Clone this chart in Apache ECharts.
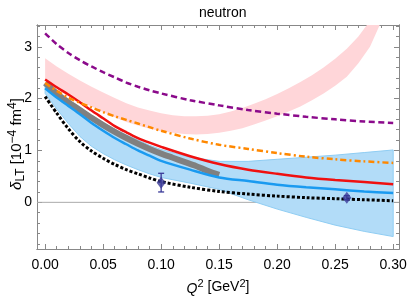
<!DOCTYPE html>
<html><head><meta charset="utf-8">
<script src="https://cdn.jsdelivr.net/npm/echarts@6/dist/echarts.min.js"></script>
<style>html,body{margin:0;padding:0;background:#fff}#c{width:407px;height:298px}</style>
</head><body><div id="c"></div>
<script>
// ---- data ----
const qGrid = [0,0.01,0.02,0.03,0.04,0.05,0.06,0.07,0.08,0.09,0.1,0.125,0.15,0.175,0.2,0.225,0.25,0.275,0.3];
const purpleCurve = [3.26,3.05,2.88,2.74,2.62,2.51,2.41,2.31,2.23,2.16,2.1,1.97,1.87,1.78,1.71,1.65,1.6,1.56,1.53];
const orangeCurve = [2.3,2.15,2.02,1.92,1.83,1.74,1.66,1.59,1.52,1.45,1.38,1.23,1.11,1.03,0.95,0.88,0.83,0.79,0.76];
const redCurve    = [2.37,2.22,2.08,1.93,1.77,1.62,1.47,1.35,1.24,1.15,1.07,0.89,0.74,0.63,0.55,0.48,0.43,0.39,0.35];
const blueCurve   = [2.2,2.02,1.86,1.7,1.53,1.38,1.24,1.12,1.0,0.9,0.8,0.63,0.48,0.41,0.34,0.29,0.25,0.21,0.18];
const blackCurve  = [2.04,1.72,1.42,1.17,0.99,0.85,0.73,0.63,0.55,0.47,0.4,0.29,0.21,0.16,0.12,0.09,0.07,0.05,0.03];
const blueBandHi  = [2.28,2.13,1.98,1.83,1.68,1.54,1.41,1.3,1.2,1.1,1.02,0.87,0.79,0.79,0.83,0.87,0.91,0.96,1.01];
const blueBandLo  = [2.1,1.8,1.52,1.27,1.08,0.94,0.82,0.72,0.63,0.55,0.48,0.37,0.25,0.05,-0.13,-0.29,-0.44,-0.56,-0.66];
const grayQ = [0,0.01,0.02,0.03,0.04,0.05,0.06,0.07,0.08,0.09,0.1,0.11,0.12,0.13,0.14,0.15];
const grayCurve = [2.3,2.1,1.93,1.78,1.63,1.49,1.36,1.24,1.13,1.03,0.94,0.86,0.78,0.7,0.61,0.53];
const pinkQ = [0,0.01,0.02,0.03,0.04,0.05,0.06,0.07,0.08,0.09,0.1,0.11,0.12,0.13,0.14,0.15,0.16,0.17,0.18,0.19,0.2,0.21,0.22,0.23,0.24,0.25,0.26,0.27,0.28,0.29];
const pinkLo = [2.36,2.22,2.08,1.96,1.85,1.74,1.64,1.55,1.48,1.42,1.37,1.34,1.32,1.31,1.32,1.34,1.38,1.43,1.5,1.58,1.66,1.75,1.85,1.97,2.1,2.25,2.42,2.68,3.0,3.5];
const pinkHi = [2.78,2.62,2.48,2.35,2.23,2.12,2.01,1.91,1.83,1.77,1.72,1.68,1.66,1.66,1.67,1.70,1.75,1.82,1.9,1.99,2.09,2.2,2.32,2.45,2.6,2.77,2.96,3.2,3.5,3.9];
const pointQ = [0.1, 0.26];
const pointVal = [0.38, 0.09];
const pointErr = [0.18, 0.04];
const xMajor = [0,0.05,0.1,0.15,0.2,0.25,0.3];
const xMinor = [0.01,0.02,0.03,0.04,0.06,0.07,0.08,0.09,0.11,0.12,0.13,0.14,0.16,0.17,0.18,0.19,0.21,0.22,0.23,0.24,0.26,0.27,0.28,0.29];
const yMajor = [0,1,2,3];
const yMinor = [-0.8,-0.6,-0.4,-0.2,0.2,0.4,0.6,0.8,1.2,1.4,1.6,1.8,2.2,2.4,2.6,2.8,3.2,3.4];
const xMin = -0.007, xMax = 0.305, yMin = -0.9, yMax = 3.42;

// ---- helpers ----
const zip = (q, v) => q.map((x, i) => [x, v[i]]);
const FONT = 'Liberation Sans';
const frameColor = '#888';

function bandSeries(q, lo, hi, fill, stroke) {
  return {
    type: 'custom', clip: true, silent: true, z: 1,
    data: q.map((x, i) => [x, lo[i], hi[i]]),
    encode: { x: 0, y: [1, 2] },
    renderItem(params, api) {
      if (params.dataIndex !== 0) return null;
      const pts = [];
      for (let i = 0; i < q.length; i++) pts.push(api.coord([q[i], hi[i]]));
      for (let i = q.length - 1; i >= 0; i--) pts.push(api.coord([q[i], lo[i]]));
      const cs = params.coordSys;
      return {
        type: 'polygon', shape: { points: pts },
        clipPath: { type: 'rect', shape: { x: cs.x, y: cs.y, width: cs.width, height: cs.height } },
        style: { fill: fill, stroke: stroke || null, lineWidth: stroke ? 1 : 0 }
      };
    }
  };
}
function lineSeries(q, v, color, width, dash, z) {
  return {
    type: 'line', data: zip(q, v), showSymbol: false, symbol: 'none', smooth: 0.3,
    clip: true, silent: true, z: z,
    lineStyle: { color: color, width: width, type: dash || 'solid', cap: 'butt' }
  };
}
function xAx(pos, vals, len, labels, extra) {
  return Object.assign({
    type: 'value', position: pos, min: xMin, max: xMax,
    axisLine: { show: true, onZero: false, lineStyle: { color: frameColor, width: 1 } },
    axisTick: { show: true, inside: true, length: len, customValues: vals, lineStyle: { color: frameColor } },
    axisLabel: labels ? { show: true, customValues: xMajor, formatter: v => v.toFixed(2), color: '#000', fontFamily: FONT, fontSize: 14, margin: 9 } : { show: false },
    splitLine: { show: false }
  }, extra || {});
}
function yAx(pos, vals, len, labels, extra) {
  return Object.assign({
    type: 'value', position: pos, min: yMin, max: yMax,
    axisLine: { show: true, onZero: false, lineStyle: { color: frameColor, width: 1 } },
    axisTick: { show: true, inside: true, length: len, customValues: vals, lineStyle: { color: frameColor } },
    axisLabel: labels ? { show: true, customValues: yMajor, formatter: v => String(v), color: '#000', fontFamily: FONT, fontSize: 14, margin: 5 } : { show: false },
    splitLine: { show: false }
  }, extra || {});
}

const chart = echarts.init(document.getElementById('c'), null, { renderer: 'canvas' });
chart.setOption({
  animation: false,
  backgroundColor: '#fff',
  title: { text: 'neutron', left: 194, top: 1, textStyle: { fontFamily: FONT, fontSize: 14, fontWeight: 'normal', color: '#000' } },
  grid: { left: 37, right: 8, top: 25, bottom: 49, containLabel: false, outerBoundsMode: 'none' },
  xAxis: [
    xAx('bottom', xMajor, 5, true, {
      name: '{i|Q}{p|2} [GeV{p|2}]', nameLocation: 'middle', nameGap: 29, nameMoveOverlap: false,
      nameTextStyle: { fontFamily: FONT, fontSize: 14, color: '#000',
        rich: { i: { fontFamily: FONT, fontSize: 14, fontStyle: 'italic', lineHeight: 18, verticalAlign: 'bottom' },
                p: { fontFamily: FONT, fontSize: 11, lineHeight: 12, verticalAlign: 'top' } } }
    }),
    xAx('bottom', xMinor, 3, false),
    xAx('top', xMajor, 5, false),
    xAx('top', xMinor, 3, false)
  ],
  yAxis: [
    yAx('left', yMajor, 5, true, {
      name: '{i|δ}{s|LT} [10{p|−4} fm{p|4}]{g|}', nameLocation: 'middle', nameGap: 10, nameRotate: 90, nameMoveOverlap: false,
      nameTextStyle: { fontFamily: FONT, fontSize: 15, color: '#000', lineHeight: 20,
        rich: { i: { fontFamily: FONT, fontSize: 15, fontStyle: 'italic', lineHeight: 20 },
                s: { fontFamily: FONT, fontSize: 12, lineHeight: 11, verticalAlign: 'bottom' },
                p: { fontFamily: FONT, fontSize: 12, lineHeight: 11, verticalAlign: 'top' },
                g: { width: 14, lineHeight: 10 } } }
    }),
    yAx('left', yMinor, 3, false),
    yAx('right', yMajor, 5, false),
    yAx('right', yMinor, 3, false)
  ],
  series: [
    { type: 'line', data: [[xMin, 0], [xMax, 0]], showSymbol: false, symbol: 'none', silent: true, z: 0,
      lineStyle: { color: '#aaa', width: 1 } },
    bandSeries(pinkQ, pinkLo, pinkHi, '#ffd6d9', null),
    bandSeries(qGrid, blueBandLo, blueBandHi, '#b2dcf8', '#8fcdf3'),
    lineSeries(grayQ, grayCurve, '#808080', 6, 'solid', 3),
    lineSeries(qGrid, blueCurve, '#1a9af0', 2.5, 'solid', 4),
    lineSeries(qGrid, redCurve, '#f01010', 2.5, 'solid', 5),
    lineSeries(qGrid, orangeCurve, '#ff8800', 2.5, [6, 3, 2, 3], 6),
    lineSeries(qGrid, purpleCurve, '#8b0a8b', 2.5, [6, 3.5], 6),
    lineSeries(qGrid, blackCurve, '#000', 3, [3, 2], 7),
    { type: 'custom', silent: true, z: 8,
      data: pointQ.map((x, i) => [x, pointVal[i], pointErr[i]]),
      encode: { x: 0, y: 1 },
      renderItem(params, api) {
        const x = api.value(0), y = api.value(1), e = api.value(2);
        const top = api.coord([x, y + e]), bot = api.coord([x, y - e]);
        const st = { stroke: '#3a3a98', lineWidth: 1.3 };
        return { type: 'group', children: [
          { type: 'line', shape: { x1: top[0], y1: top[1], x2: bot[0], y2: bot[1] }, style: st },
          { type: 'line', shape: { x1: top[0] - 3, y1: top[1], x2: top[0] + 3, y2: top[1] }, style: st },
          { type: 'line', shape: { x1: bot[0] - 3, y1: bot[1], x2: bot[0] + 3, y2: bot[1] }, style: st }
        ] };
      } },
    { type: 'scatter', data: zip(pointQ, pointVal), symbol: 'diamond', symbolSize: [9, 12], z: 9, silent: true,
      itemStyle: { color: '#3a3a98' } }
  ]
});
</script></body></html>
